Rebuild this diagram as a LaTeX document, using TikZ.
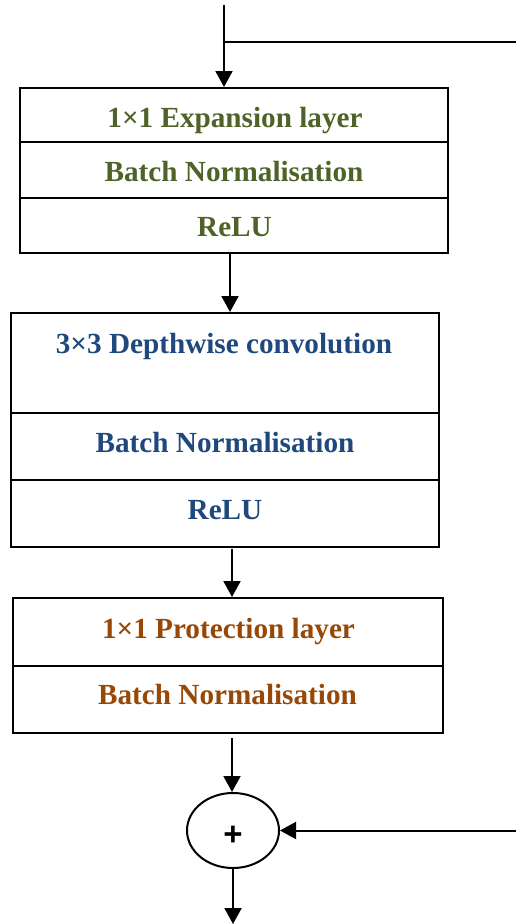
\documentclass[tikz,border=0pt]{standalone}
\usepackage{fontspec}
\setmainfont{Liberation Serif}
\newfontfamily\plusfont{Liberation Sans}
\usetikzlibrary{arrows.meta,shapes.geometric}
\definecolor{cgreen}{HTML}{4F6228}
\definecolor{cblue}{HTML}{1F497D}
\definecolor{cbrown}{HTML}{984806}
\tikzset{
  row/.style={draw=black,line width=2pt,rectangle,inner sep=0pt},
  lbl/.style={inner sep=0pt,anchor=base,font=\fontsize{29.2}{33}\selectfont\bfseries},
  arr/.style={draw=black,line width=2pt,-{Triangle[length=16pt,width=17pt]}},
  ln/.style={draw=black,line width=2pt},
}
\begin{document}
\begin{tikzpicture}[x=1pt,y=-1pt]
\useasboundingbox (0,0) rectangle (516,924);
% block 1
\node[row,minimum width=428pt,minimum height=54pt] (e1) at (234,115) {};
\node[row,minimum width=428pt,minimum height=56pt] (e2) at (234,170) {};
\node[row,minimum width=428pt,minimum height=55pt] (e3) at (234,225.5) {};
\node[lbl,text=cgreen] (e1t) at (235,127) {1×1 Expansion layer};
\node[lbl,text=cgreen] (e2t) at (234,181.7) {Batch Normalisation};
\node[lbl,text=cgreen] (e3t) at (234.5,236.7) {ReLU};
% block 2
\node[row,minimum width=428pt,minimum height=100pt] (d1) at (225,363) {};
\node[row,minimum width=428pt,minimum height=67pt] (d2) at (225,446.5) {};
\node[row,minimum width=428pt,minimum height=67pt] (d3) at (225,513.5) {};
\node[lbl,text=cblue] (d1t) at (224,353) {3×3 Depthwise convolution};
\node[lbl,text=cblue] (d2t) at (225,452.3) {Batch Normalisation};
\node[lbl,text=cblue] (d3t) at (225,519) {ReLU};
% block 3
\node[row,minimum width=430pt,minimum height=68pt] (p1) at (228,632) {};
\node[row,minimum width=430pt,minimum height=67pt] (p2) at (228,699.5) {};
\node[lbl,text=cbrown] (p1t) at (228.5,638) {1×1 Protection layer};
\node[lbl,text=cbrown] (p2t) at (227.5,704) {Batch Normalisation};
% sum
\node[draw=black,line width=2pt,ellipse,minimum width=92pt,minimum height=75pt,inner sep=0pt] (s) at (233,830.5) {};
\node[inner sep=0pt,font=\plusfont\bfseries\fontsize{33}{36}\selectfont] (plus) at (233,836) {+};
% connectors
\coordinate (in) at (224,5);
\coordinate (br) at (224,42);
\coordinate (brr) at (516,42);
\coordinate (skip) at (516,830.5);
\coordinate (out) at (233,924);
\draw[arr] (in) -- (in |- e1.north);
\draw[ln] (br) -- (brr);
\draw[arr] ([xshift=-4pt]e3.south) -- ([xshift=5pt]d1.north);
\draw[arr] ([xshift=7pt,yshift=-1pt]d3.south) -- ([xshift=4pt]p1.north);
\draw[arr] ([xshift=4pt,yshift=-4pt]p2.south) -- ([xshift=-1pt]s.north);
\draw[arr] (skip) -- (s.east);
\draw[arr] (s.south) -- (out);
\end{tikzpicture}
\end{document}
